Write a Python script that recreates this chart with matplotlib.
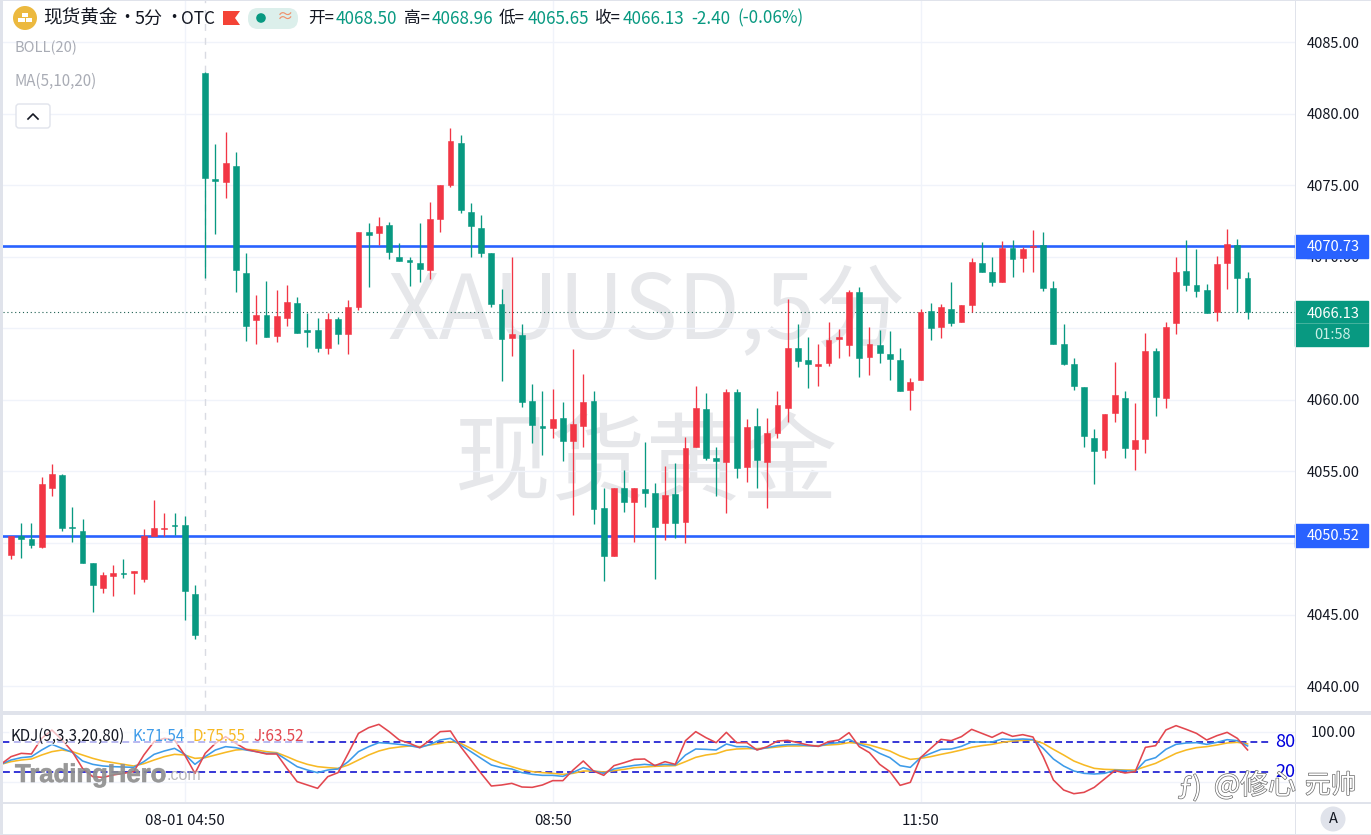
#!/usr/bin/env python3
"""XAUUSD 5 minute candles with KDJ pane"""

import numpy as np
import matplotlib
matplotlib.use('Agg')
import matplotlib.pyplot as plt
import matplotlib.patheffects as pe
from matplotlib.patches import Rectangle, Circle, FancyBboxPatch, Polygon

plt.rcParams['font.family'] = ['Noto Sans CJK SC', 'DejaVu Sans']

opens = [
    4049.16, 4050.48, 4050.27, 4049.72, 4053.86, 4054.77, 4051.11, 4050.83, 4048.62, 4046.85,
    4047.71, 4047.92, 4047.92, 4047.48, 4050.48, 4050.97, 4051.25, 4051.27, 4046.43, 4082.86,
    4075.43, 4075.22, 4076.34, 4068.88, 4065.58, 4065.93, 4064.46, 4065.74, 4066.79, 4064.88,
    4064.88, 4063.62, 4065.65, 4064.60, 4066.51, 4071.73, 4071.66, 4072.22, 4070.00, 4069.77,
    4069.56, 4069.07, 4072.64, 4075.01, 4077.97, 4073.13, 4072.03, 4070.28, 4066.70, 4064.32,
    4064.53, 4059.92, 4058.19, 4058.03, 4058.73, 4057.12, 4058.19, 4059.94, 4052.44, 4049.09,
    4053.84, 4052.86, 4053.77, 4053.51, 4051.41, 4053.42, 4051.46, 4056.70, 4059.36, 4055.96,
    4055.68, 4060.57, 4055.33, 4058.17, 4055.68, 4057.68, 4059.43, 4063.62, 4062.78, 4062.36,
    4062.57, 4064.27, 4063.85, 4067.56, 4062.99, 4063.83, 4063.20, 4062.78, 4060.69, 4061.39,
    4066.21, 4065.09, 4066.35, 4065.44, 4066.63, 4069.58, 4068.93, 4068.25, 4070.61, 4069.93,
    4070.66, 4070.82, 4067.84, 4063.90, 4062.50, 4060.90, 4057.35, 4056.49, 4059.10, 4060.13,
    4056.56, 4057.26, 4063.41, 4060.15, 4065.37, 4069.00, 4068.02, 4067.67, 4066.16, 4069.58,
    4070.82, 4068.50,
]
highs = [
    4050.48, 4051.39, 4051.41, 4054.61, 4055.52, 4054.84, 4052.51, 4051.67, 4048.62, 4047.97,
    4048.46, 4048.88, 4048.02, 4050.97, 4053.00, 4052.09, 4052.09, 4051.88, 4047.06, 4082.91,
    4077.88, 4078.72, 4077.32, 4070.26, 4067.33, 4068.30, 4067.67, 4068.02, 4067.21, 4066.07,
    4065.72, 4066.07, 4065.81, 4066.98, 4071.75, 4072.36, 4072.78, 4072.45, 4070.98, 4070.00,
    4072.38, 4073.82, 4075.03, 4079.02, 4078.51, 4073.75, 4072.92, 4070.28, 4067.74, 4069.98,
    4065.30, 4061.11, 4060.62, 4060.76, 4059.85, 4063.55, 4061.81, 4060.64, 4053.84, 4053.86,
    4055.10, 4053.86, 4057.05, 4054.19, 4055.40, 4055.59, 4057.42, 4060.99, 4060.50, 4056.72,
    4060.76, 4060.76, 4058.66, 4059.43, 4058.73, 4060.62, 4067.05, 4065.30, 4064.41, 4063.90,
    4065.46, 4064.95, 4067.67, 4067.91, 4065.09, 4064.88, 4064.83, 4063.64, 4061.53, 4066.35,
    4066.77, 4066.70, 4068.25, 4066.63, 4069.91, 4071.03, 4069.98, 4071.10, 4071.17, 4070.68,
    4071.87, 4071.75, 4068.32, 4065.30, 4062.92, 4060.90, 4057.96, 4059.01, 4062.67, 4060.62,
    4059.80, 4064.67, 4063.62, 4065.44, 4069.98, 4071.17, 4070.54, 4068.09, 4070.07, 4071.94,
    4071.24, 4068.96,
]
lows = [
    4048.88, 4048.95, 4049.65, 4049.65, 4053.30, 4050.85, 4050.09, 4048.62, 4045.17, 4046.50,
    4046.31, 4047.55, 4046.45, 4047.27, 4050.48, 4050.48, 4050.55, 4044.61, 4043.29, 4068.51,
    4071.59, 4074.12, 4067.53, 4064.13, 4063.92, 4064.39, 4064.06, 4065.18, 4064.67, 4063.71,
    4063.36, 4063.20, 4063.90, 4063.20, 4066.28, 4067.91, 4070.82, 4069.84, 4069.70, 4067.95,
    4068.23, 4068.46, 4071.75, 4074.87, 4073.06, 4070.00, 4070.00, 4066.51, 4061.32, 4063.08,
    4059.52, 4057.00, 4056.14, 4057.33, 4055.75, 4051.95, 4056.72, 4051.32, 4047.36, 4049.09,
    4052.18, 4050.09, 4052.51, 4047.48, 4050.20, 4050.34, 4050.00, 4056.70, 4055.80, 4053.28,
    4052.09, 4054.56, 4054.26, 4053.84, 4052.46, 4057.35, 4058.45, 4062.29, 4060.85, 4060.97,
    4062.38, 4062.94, 4063.08, 4061.60, 4061.74, 4062.57, 4061.39, 4060.64, 4059.29, 4061.39,
    4064.18, 4064.34, 4065.18, 4065.44, 4066.14, 4068.93, 4067.98, 4068.25, 4068.60, 4068.93,
    4068.95, 4067.63, 4063.90, 4062.45, 4060.69, 4056.72, 4054.12, 4055.94, 4058.47, 4055.94,
    4055.10, 4056.30, 4058.89, 4059.43, 4064.60, 4067.63, 4067.21, 4066.07, 4065.53, 4067.74,
    4066.16, 4065.65,
]
closes = [
    4050.48, 4050.30, 4049.86, 4054.12, 4054.84, 4051.04, 4051.04, 4048.62, 4047.06, 4047.76,
    4047.92, 4047.83, 4048.02, 4050.48, 4051.04, 4051.04, 4051.18, 4046.64, 4043.55, 4075.50,
    4075.29, 4076.55, 4069.07, 4065.16, 4065.93, 4064.41, 4065.86, 4066.84, 4064.69, 4064.74,
    4063.62, 4065.65, 4064.60, 4066.49, 4071.75, 4071.52, 4072.15, 4070.33, 4069.70, 4069.63,
    4069.14, 4072.64, 4075.03, 4078.09, 4073.27, 4072.15, 4070.28, 4066.70, 4064.25, 4064.60,
    4059.87, 4058.24, 4058.03, 4058.66, 4057.12, 4058.31, 4059.87, 4052.37, 4049.09, 4053.86,
    4052.88, 4053.86, 4053.51, 4051.13, 4053.35, 4051.41, 4056.63, 4059.43, 4055.96, 4055.75,
    4060.57, 4055.24, 4058.10, 4055.80, 4057.68, 4059.64, 4063.64, 4062.71, 4062.50, 4062.50,
    4064.18, 4064.39, 4067.56, 4062.94, 4063.90, 4063.29, 4062.87, 4060.64, 4061.25, 4066.14,
    4065.04, 4066.49, 4065.39, 4066.63, 4069.65, 4068.93, 4068.25, 4070.61, 4069.86, 4070.54,
    4070.75, 4067.84, 4063.90, 4062.50, 4060.97, 4057.47, 4056.42, 4059.01, 4060.34, 4056.63,
    4057.19, 4063.41, 4060.22, 4065.11, 4068.95, 4068.05, 4067.60, 4066.07, 4069.49, 4070.89,
    4068.51, 4066.13,
]

# KDJ starts one bar before the first visible candle
k_vals = [
    34.7, 43.4, 48.1, 50.1, 63.4, 74.7, 66.7, 58.7, 41.4, 34.7, 31.4, 30.1, 29.4, 28.7, 40.1, 54.7,
    61.4, 66.7, 54.7, 34.7, 50.1, 63.4, 70.1, 68.1, 63.4, 60.1, 56.7, 56.7, 43.4, 30.1, 23.4, 18.1,
    23.4, 25.4, 40.1, 60.1, 70.1, 78.1, 76.7, 74.7, 72.1, 68.1, 74.7, 83.4, 86.7, 73.4,
    60.1, 46.7, 33.4, 28.1, 25.4, 18.1, 14.7, 12.7, 12.7, 10.7, 18.7, 28.1, 21.4, 16.7, 25.4, 29.4,
    32.7, 34.7, 32.7, 34.7, 33.4, 53.4, 65.4, 64.7, 63.4, 75.4, 70.1, 70.1, 64.1, 68.1, 72.1, 74.1,
    74.1, 72.1, 70.7, 76.1, 78.1, 84.7, 74.7, 68.1, 56.7, 48.1, 32.1, 28.7, 48.1,
    56.7, 64.7, 65.4, 70.7, 79.4, 79.4, 79.4, 85.4, 84.1, 85.4, 84.1, 66.7, 45.4, 31.4, 21.4, 16.7,
    15.4, 16.7, 22.7, 22.1, 20.7, 42.1, 48.1, 64.7, 74.7, 77.4, 78.1, 74.7, 78.7, 84.1, 82.1, 71.54,
]
d_vals = [
    34.7, 40.1, 43.4, 45.4, 53.4, 60.1, 63.4, 60.1, 53.4, 46.7, 41.4, 38.1, 34.7, 31.4, 36.1, 43.4,
    50.1, 54.7, 53.4, 46.7, 48.1, 53.4, 58.7, 63.4, 64.7, 63.4, 60.1, 58.1, 50.1, 41.4, 34.7, 30.1,
    28.1, 26.7, 33.4, 43.4, 53.4, 61.4, 66.7, 69.4, 71.4, 70.1, 73.4, 76.7, 80.1, 76.7,
    66.7, 54.7, 44.7, 36.7, 30.1, 24.1, 20.1, 18.1, 16.7, 14.7, 16.7, 21.4, 21.4, 19.4, 22.1, 24.7,
    28.1, 29.4, 30.7, 31.4, 32.1, 40.1, 48.7, 53.4, 56.1, 62.7, 65.4, 66.1, 66.1, 67.4, 69.4, 71.4,
    71.4, 72.1, 72.1, 73.4, 74.7, 78.1, 76.7, 73.4, 67.4, 61.4, 51.4, 44.7, 46.7,
    50.1, 54.7, 58.7, 63.4, 68.7, 72.1, 74.7, 78.7, 81.4, 82.7, 83.4, 76.7, 64.7, 53.4, 41.4, 33.4,
    26.7, 24.7, 24.1, 23.4, 23.4, 30.1, 36.7, 46.7, 56.7, 63.4, 68.1, 70.1, 73.4, 77.4, 78.7, 75.55,
]
j_vals = [
    34.7, 50.1, 56.7, 55.4, 86.7, 103.4, 83.4, 60.1, 26.7, 10.1, 8.7, 13.4, 16.7, 20.1, 53.4, 80.1,
    86.7, 83.4, 53.4, 16.7, 56.7, 76.7, 90.1, 76.7, 64.7, 60.1, 55.4, 55.4, 26.7, 0.1, -6.6, -13.3,
    10.1, 18.1, 56.7, 96.7, 108.1, 114.7, 100.1, 83.4, 76.7, 68.1, 83.4, 100.1, 101.4, 70.1,
    43.4, 16.7, -8.6, -6.6, -3.3, -10.6, -11.3, -6.6, 2.1, 2.1, 23.4, 41.4, 21.4, 12.7, 32.1, 38.1,
    44.7, 45.4, 32.1, 40.1, 34.7, 82.1, 100.1, 88.1, 78.1, 98.7, 78.1, 78.1, 63.4, 70.1, 81.4, 82.7,
    78.1, 73.4, 70.7, 80.1, 83.4, 98.1, 70.1, 58.1, 34.7, 20.1, -7.3, -1.3, 48.1,
    66.7, 84.7, 82.1, 90.1, 104.7, 96.7, 88.7, 98.7, 90.7, 94.1, 89.4, 50.1, 3.4, -16.6, -24.0, -21.3,
    -11.3, 5.4, 22.1, 17.4, 20.1, 68.7, 72.1, 103.4, 112.1, 104.7, 96.7, 83.4, 92.1, 98.7, 86.7, 63.52,
]

price_ticks = [4040, 4045, 4050, 4055, 4060, 4065, 4070, 4075, 4080, 4085]
time_ticks = [17, 53, 89]
time_labels = ['08-01 04:50', '08:50', '11:50']
session_break = 19
level_high = 4070.73
level_low = 4050.52
last_close = 4066.13
countdown = '01:58'

UP = '#f23645'
DOWN = '#089981'
BLUE = '#2962ff'
GRID = '#f0f3fa'
SEP = '#e0e3eb'
W, H = 1371, 835


def px_axes(x0, y0, x1, y1):
    """Axes rectangle from pixel corners, y measured from the top"""
    return [x0 / W, 1 - y1 / H, (x1 - x0) / W, (y1 - y0) / H]


fig = plt.figure(figsize=(W / 100, H / 100), dpi=100, facecolor='white')
ax = fig.add_axes(px_axes(3, 0, 1295, 711))
ax_kdj = fig.add_axes(px_axes(3, 715, 1295, 802))
overlay = fig.add_axes([0, 0, 1, 1], zorder=10)
overlay.set_xlim(0, W)
overlay.set_ylim(H, 0)
overlay.axis('off')
overlay.patch.set_alpha(0)

x = np.arange(len(closes))
x_kdj = np.arange(-1, len(closes))
xlim = (-0.783, 125.64)
o, h, l, c = map(np.array, (opens, highs, lows, closes))
colors = [UP if c[i] >= o[i] else DOWN for i in x]

# main pane
ax.set_xlim(*xlim)
ax.set_ylim(4038.26, 4087.94)
for s in ax.spines.values():
    s.set_visible(False)
ax.yaxis.tick_right()
ax.set_yticks(price_ticks, [f'{v:.2f}' for v in price_ticks])
ax.set_xticks(time_ticks, [])
ax.tick_params(axis='both', length=0)
ax.tick_params(axis='y', pad=8.4, labelsize=10.5, labelcolor='#131722')
ax.grid(True, color=GRID, lw=1.0)
ax.set_axisbelow(True)
ax.axvline(session_break, color='#d9dbe2', lw=1.0, ls=(0, (5, 5)), zorder=1)

ax.text(0.498, 0.558, 'XAUUSD,5分', transform=ax.transAxes, fontsize=65, color='#e6e7ea',
        ha='center', va='center', zorder=0.5)
ax.text(0.498, 0.345, '现货黄金', transform=ax.transAxes, fontsize=69, color='#e6e7ea',
        ha='center', va='center', zorder=0.5)

ax.axhline(level_high, color=BLUE, lw=1.9, zorder=2)
ax.axhline(level_low, color=BLUE, lw=1.9, zorder=2)
ax.axhline(last_close, color='#1f5f52', lw=0.8, ls=(0, (1, 2.5)), zorder=2)

ax.vlines(x, l, h, colors=colors, lw=0.95, zorder=3)
ax.bar(x, np.abs(c - o), bottom=np.minimum(o, c), width=0.57, color=colors,
       edgecolor=colors, linewidth=0.4, zorder=4)

# price tags on the axis
tag_x = ax.get_yaxis_transform()
for price in (level_high, level_low):
    ax.add_patch(Rectangle((1.0, price - 0.8), 73 / 1292, 1.6, transform=tag_x,
                           color=BLUE, clip_on=False, zorder=6))
    ax.text(1.0 + 38 / 1292, price - 0.06, f'{price:.2f}', transform=tag_x, color='white', fontsize=10.5,
            ha='center', va='center', zorder=7)
ax.add_patch(Rectangle((1.0, last_close - 2.4), 73 / 1292, 3.2, transform=tag_x,
                       color=DOWN, clip_on=False, zorder=6))
ax.plot([1.0, 1.0 + 73 / 1292], [last_close - 0.75, last_close - 0.75], transform=tag_x,
        color='#4fb8a3', lw=0.6, clip_on=False, zorder=7)
ax.text(1.0 + 38 / 1292, last_close - 0.1, f'{last_close:.2f}', transform=tag_x, color='white',
        fontsize=10.5, ha='center', va='center', zorder=7)
ax.text(1.0 + 38 / 1292, last_close - 1.58, countdown, transform=tag_x, color='#c8efe6',
        fontsize=10.5, ha='center', va='center', zorder=7)

# KDJ pane
ax_kdj.set_xlim(*xlim)
ax_kdj.set_ylim(-40.6, 133.4)
for s in ax_kdj.spines.values():
    s.set_visible(False)
ax_kdj.yaxis.tick_right()
ax_kdj.set_yticks([0, 100], ['', '100.00'])
ax_kdj.set_xticks(time_ticks, time_labels)
ax_kdj.tick_params(axis='both', length=0)
ax_kdj.tick_params(axis='y', pad=11.5, labelsize=10.5, labelcolor='#131722')
ax_kdj.tick_params(axis='x', pad=8.5, labelsize=10.8, labelcolor='#131722')
ax_kdj.grid(True, color=GRID, lw=1.0)
ax_kdj.set_axisbelow(True)
for level in (80, 20):
    ax_kdj.plot([xlim[0], 123.4], [level, level], color='#0000cc', lw=1.1, ls=(0, (4.5, 2.6)), zorder=2)
    ax_kdj.text(1.0, level, str(level), transform=ax_kdj.get_yaxis_transform(), color='#0000dd',
                fontsize=13, ha='right', va='center', zorder=6)
ax_kdj.plot(x_kdj, d_vals, color='#f7b924', lw=1.15, zorder=3)
ax_kdj.plot(x_kdj, k_vals, color='#3d9be9', lw=1.15, zorder=4)
ax_kdj.plot(x_kdj, j_vals, color='#e2474f', lw=1.15, zorder=5)

# pane separators and frame
overlay.add_patch(Rectangle((0, 0), 3, H, color=SEP, lw=0))
overlay.add_patch(Rectangle((0, 711), W, 4, color=SEP, lw=0))
overlay.add_patch(Rectangle((0, 802), W, 2, color=SEP, lw=0))
overlay.add_patch(Rectangle((0, 0), W, 1, color=SEP, lw=0))
overlay.add_patch(Rectangle((0, 834), W, 1, color=SEP, lw=0))
overlay.add_patch(Rectangle((1295, 0), 1, H, color=SEP, lw=0))

# header
overlay.add_patch(Circle((25, 18), 12, color='#ecb93f', lw=0))
overlay.add_patch(Rectangle((22, 12.5), 6, 4, color='white', lw=0))
overlay.add_patch(Rectangle((18, 18), 6.5, 4, color='white', lw=0))
overlay.add_patch(Rectangle((25.5, 18), 6.5, 4, color='white', lw=0))
for part, part_x, size in (('现货黄金', 43, 13.4), ('•', 118, 12.4), ('5分', 135, 13),
                           ('•', 165, 12.4), ('OTC', 181, 12.4)):
    overlay.text(part_x, 18.5, part, fontsize=size, color='#131722', va='center')
overlay.add_patch(Polygon([(223, 11), (240, 11), (235, 18), (240, 25), (223, 25)], color='#f44336', lw=0))
overlay.add_patch(FancyBboxPatch((248, 8), 50, 21, boxstyle='round,pad=0,rounding_size=10',
                                 color='#dcefeb', lw=0))
overlay.add_patch(Circle((261, 18), 4.8, color=DOWN, lw=0))
overlay.text(285, 18, '≈', fontsize=12, color='#f0906a', ha='center', va='center')
for name, label_x, val, val_x in (('开=', 308, opens[-1], 336), ('高=', 404, highs[-1], 432),
                                  ('低=', 499, lows[-1], 528), ('收=', 595, closes[-1], 623)):
    overlay.text(label_x, 18.5, name, fontsize=12, color='#131722', va='center')
    overlay.text(val_x, 18.5, f'{val:.2f}', fontsize=12.3, color=DOWN, va='center')
overlay.text(691, 18.5, '-2.40', fontsize=12.3, color=DOWN, va='center')
overlay.text(737, 18.5, '(-0.06%)', fontsize=12.3, color=DOWN, va='center')

overlay.text(15, 48, 'BOLL(20)', fontsize=10.5, color='#a9acb5', va='center')
overlay.text(15, 81, 'MA(5,10,20)', fontsize=10.9, color='#a9acb5', va='center')
overlay.add_patch(FancyBboxPatch((16, 104), 34, 24, boxstyle='round,pad=0,rounding_size=3',
                                 facecolor='white', edgecolor=SEP, lw=1))
overlay.plot([28, 33, 38], [119, 114, 119], color='#131722', lw=1.2)

# KDJ legend with its translucent backing
overlay.add_patch(Rectangle((9, 727), 301, 18, color='white', alpha=0.65, lw=0))
overlay.text(11, 736.5, 'KDJ(9,3,3,20,80)', fontsize=10.9, color='#131722', va='center')
overlay.text(133, 736.5, f'K:{k_vals[-1]:.2f}', fontsize=11, color='#3d9be9', va='center')
overlay.text(193, 736.5, f'D:{d_vals[-1]:.2f}', fontsize=11, color='#f7b924', va='center')
overlay.text(254, 736.5, f'J:{j_vals[-1]:.2f}', fontsize=11, color='#e2474f', va='center')

# watermarks sitting on the picture
overlay.text(15, 775, 'TradingHero', fontsize=18.5, family='Liberation Sans', weight='bold',
             color='#8f8f8f', alpha=0.7, va='center',
             path_effects=[pe.Stroke(linewidth=0.6, foreground='#8f8f8f'), pe.Normal()])
overlay.text(167, 776, '.com', fontsize=11.5, family='Liberation Sans', color='#a8a8a8',
             alpha=0.8, va='center')
outline = [pe.Stroke(linewidth=1.0, foreground='#6a6a6a'), pe.Normal()]
overlay.text(1178, 788, 'ƒ)', fontsize=19, color='white', va='center', path_effects=outline)
overlay.text(1214, 786, '@修心', fontsize=20, color='white', va='center', path_effects=outline)
overlay.text(1300, 786, '·', fontsize=12, color='white', va='center', path_effects=outline)
overlay.text(1305, 786, '元帅', fontsize=18.5, color='white', va='center', path_effects=outline)

overlay.add_patch(Circle((1333, 819), 12.5, color=SEP, lw=0))
overlay.text(1333, 819, 'A', fontsize=10.5, color='#131722', ha='center', va='center')

fig.savefig('out.png', dpi=100)
